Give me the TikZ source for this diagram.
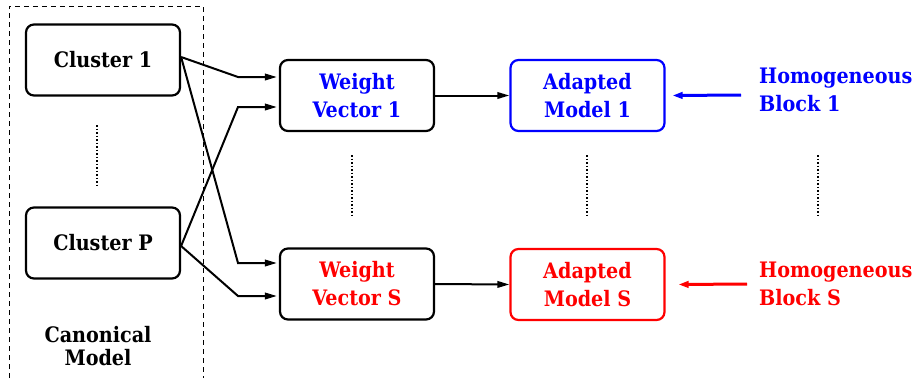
\documentclass[tikz,border=0pt]{standalone}
\usepackage{fontspec}
\setmainfont{DejaVu Serif Condensed}
\usetikzlibrary{arrows.meta}
\definecolor{pureblue}{RGB}{0,0,255}
\definecolor{purered}{RGB}{255,0,0}
\begin{document}
\begin{tikzpicture}[x=1pt,y=-1pt,
  txt/.style={font=\fontsize{21.3}{28}\selectfont\bfseries, align=center, inner sep=0pt},
  box/.style={txt, draw, line width=2.2pt, rounded corners=8pt,
              minimum width=154pt, minimum height=71pt},
  conn/.style={line width=2pt, -{Triangle[length=12pt,width=6.5pt]}, shorten >=2pt},
  feed/.style={line width=3pt, -{Triangle[length=10pt,width=6.5pt]}},
  dots/.style={line width=1.5pt, dash pattern=on 1.6pt off 1.9pt},
  frame/.style={line width=0.9pt, dash pattern=on 5pt off 4pt}]
\useasboundingbox (0,0) rectangle (919,378);

% canonical model frame (open at the bottom)
\draw[frame] (9,378) -- (9,6) -- (203,6) -- (203,378);

% clusters
\node[box] (c1) at (103,60) {Cluster 1};
\node[box] (cp) at (103,243) {Cluster P};
\node[txt, font=\fontsize{21.3}{23}\selectfont\bfseries] (canon) at (98,346) {Canonical\\Model};

% weight vectors
\node[box, text=pureblue] (wv1) at (357,95.5) {Weight\\Vector 1};
\node[box, text=purered] (wvs) at (357,284) {Weight\\Vector S};

% adapted models
\node[box, draw=pureblue, text=pureblue] (am1) at (587.5,95.5) {Adapted\\Model 1};
\node[box, draw=purered, text=purered] (ams) at (587.5,284.5) {Adapted\\Model S};

% homogeneous blocks
\node[txt, align=left, anchor=west, text=pureblue] (hb1) at (759,90) {Homogeneous\\Block 1};
\node[txt, align=left, anchor=west, text=purered] (hbs) at (759,284) {Homogeneous\\Block S};

% elision marks
\draw[dots] (97,125) -- (97,186);
\draw[dots] (352,155) -- (352,216);
\draw[dots] (587,155) -- (587,216);
\draw[dots] (818,155) -- (818,216);

% cluster to weight vector connections
\draw[conn] ([yshift=3pt]c1.east) -- (238,77) -- ([yshift=18.5pt]wv1.west);
\draw[conn] ([yshift=3pt]c1.east) -- (238,263) -- ([yshift=21pt]wvs.west);
\draw[conn] ([yshift=-3pt]cp.east) -- (238,107) -- ([yshift=-11.5pt]wv1.west);
\draw[conn] ([yshift=-3pt]cp.east) -- (238,296) -- ([yshift=-12pt]wvs.west);

% weight vectors to adapted models
\draw[conn, shorten >=0pt] (wv1.east) -- (am1.west);
\draw[conn, shorten >=0pt] (wvs.east) -- (ams.west);

% homogeneous blocks feed the adapted models
\draw[feed, draw=pureblue, fill=pureblue] (741,95) -- ([xshift=7pt]am1.east);
\draw[feed, draw=purered, fill=purered] (747,284) -- ([xshift=13pt]ams.east);
\end{tikzpicture}
\end{document}
